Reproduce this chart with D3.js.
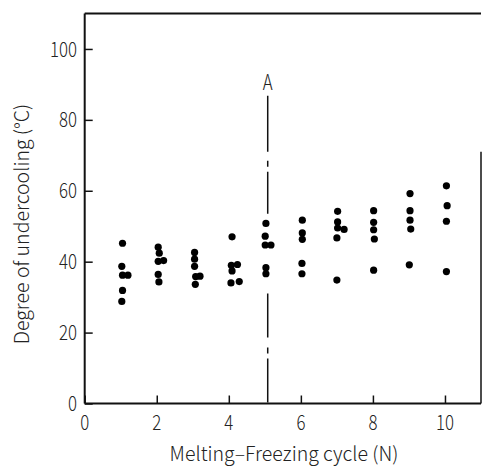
<!DOCTYPE html>
<html>
<head>
<meta charset="utf-8">
<script src="https://cdn.jsdelivr.net/npm/d3@7"></script>
<style>
  body { margin: 0; background: #fff; }
  text { font-family: "Noto Sans CJK JP", "DejaVu Sans", sans-serif; font-weight: 300; fill: #222; }
</style>
</head>
<body>
<div id="chart"></div>
<script>
// melting-freezing cycle (x, slightly offset where dots overlap) and undercooling (°C)
const cycleX = [
  1.05, 1.03, 1.05, 1.2, 1.05, 1.03,
  2.04, 2.07, 2.04, 2.19, 2.04, 2.06,
  3.05, 3.05, 3.05, 3.08, 3.2, 3.07,
  4.09, 4.07, 4.24, 4.09, 4.06, 4.29,
  5.03, 5.01, 5.01, 5.17, 5.03, 5.03,
  6.04, 6.04, 6.04, 6.03, 6.03,
  7.02, 7.02, 7.02, 7.2, 7.0, 7.0,
  8.02, 8.02, 8.02, 8.04, 8.02,
  9.03, 9.03, 9.03, 9.05, 9.01,
  10.04, 10.06, 10.04, 10.04
];
const undercooling = [
  45.2, 38.7, 36.2, 36.2, 31.9, 28.8,
  44.1, 42.4, 40.1, 40.3, 36.4, 34.3,
  42.6, 40.7, 38.7, 35.8, 35.9, 33.6,
  47.0, 39.0, 39.2, 37.4, 34.0, 34.4,
  50.8, 47.2, 44.7, 44.7, 38.3, 36.6,
  51.7, 48.1, 46.3, 39.5, 36.6,
  54.2, 51.2, 49.5, 49.1, 46.7, 34.8,
  54.4, 51.1, 49.0, 46.4, 37.6,
  59.2, 54.4, 51.7, 49.2, 39.1,
  61.4, 55.8, 51.4, 37.2
];
const xTicks = [0, 2, 4, 6, 8, 10];
const yTicks = [0, 20, 40, 60, 80, 100];
const markerA = 5.08;

const width = 482, height = 470;
const margin = {top: 13.5, right: 1, bottom: 66.5, left: 84.7};

const svg = d3.select("#chart").append("svg")
  .attr("width", width)
  .attr("height", height);

const x = d3.scaleLinear().domain([0, 11]).range([margin.left, width - margin.right]);
const y = d3.scaleLinear().domain([0, 110]).range([height - margin.bottom, margin.top]);

// frame
const frame = svg.append("g").attr("stroke", "#111").attr("stroke-width", 2).attr("fill", "none");
frame.append("line").attr("x1", x(0)).attr("x2", x(0)).attr("y1", y(0)).attr("y2", y(110));
frame.append("line").attr("x1", x(0)).attr("x2", x(11)).attr("y1", y(0)).attr("y2", y(0));
frame.append("line").attr("x1", x(0)).attr("x2", x(11)).attr("y1", y(110)).attr("y2", y(110));
frame.append("line").attr("x1", x(11)).attr("x2", x(11)).attr("y1", y(0)).attr("y2", y(71))
  .attr("stroke-width", 1.5);

// x axis (ticks pointing inward)
const xAxis = svg.append("g")
  .attr("transform", `translate(0,${y(0)})`)
  .call(d3.axisTop(x).tickValues(xTicks).tickSize(8).tickFormat(""));
xAxis.select(".domain").remove();
xAxis.selectAll("line").attr("stroke", "#111").attr("stroke-width", 1.5);

// narrow, tall digits like the original typesetting
svg.append("g").selectAll("text")
  .data(xTicks)
  .join("text")
  .attr("transform", d => `translate(${x(d)},430) scale(0.8,1)`)
  .attr("text-anchor", "middle")
  .attr("font-size", 21)
  .text(d => d);

// y axis (ticks pointing inward)
const yAxis = svg.append("g")
  .attr("transform", `translate(${x(0)},0)`)
  .call(d3.axisRight(y).tickValues(yTicks).tickSize(8).tickFormat(""));
yAxis.select(".domain").remove();
yAxis.selectAll("line").attr("stroke", "#111").attr("stroke-width", 1.5);

svg.append("g").selectAll("text")
  .data(yTicks)
  .join("text")
  .attr("transform", d => `translate(77,${y(d)}) scale(0.8,1)`)
  .attr("dy", "0.36em")
  .attr("text-anchor", "end")
  .attr("font-size", 21)
  .text(d => d);

// marker line A, broken around the data
const aLine = svg.append("g")
  .attr("stroke", "#111")
  .attr("stroke-width", 1.5);
aLine.append("line")
  .attr("x1", x(markerA)).attr("x2", x(markerA))
  .attr("y1", y(86.8)).attr("y2", y(53.5))
  .attr("stroke-dasharray", "56,9,6,5");
aLine.append("line")
  .attr("x1", x(markerA)).attr("x2", x(markerA))
  .attr("y1", y(31)).attr("y2", y(0))
  .attr("stroke-dasharray", "44,10,6,5");

svg.append("text")
  .attr("transform", `translate(${x(markerA)},90) scale(0.8,1)`)
  .attr("text-anchor", "middle")
  .attr("font-size", 21)
  .text("A");

// points
svg.append("g")
  .selectAll("circle")
  .data(undercooling)
  .join("circle")
  .attr("cx", (d, i) => x(cycleX[i]))
  .attr("cy", d => y(d))
  .attr("r", 3.6)
  .attr("fill", "#000");

// axis titles
svg.append("text")
  .attr("x", 284)
  .attr("y", 461)
  .attr("text-anchor", "middle")
  .attr("font-size", 19.5)
  .text("Melting–Freezing cycle (N)");

svg.append("text")
  .attr("transform", "translate(29,224) rotate(-90)")
  .attr("text-anchor", "middle")
  .attr("font-size", 19.5)
  .text("Degree of undercooling (°C)");
</script>
</body>
</html>
